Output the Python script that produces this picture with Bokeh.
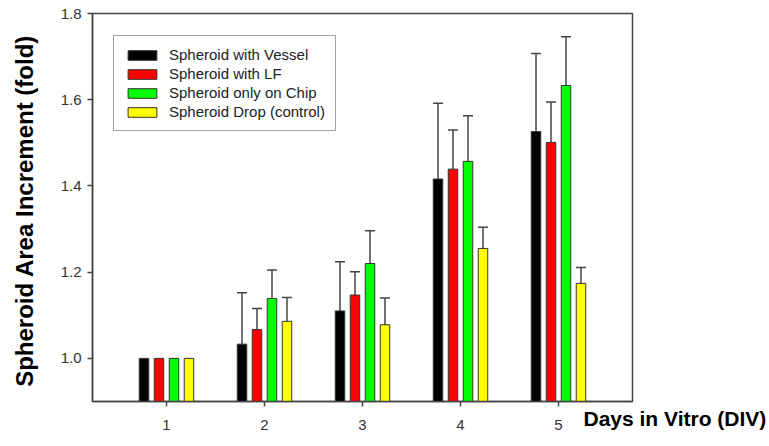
import pandas as pd
from bokeh.plotting import figure
from bokeh.models import (ColumnDataSource, Range1d, FixedTicker, Whisker, TeeHead, LinearAxis,
                          Legend, LegendItem, NumeralTickFormatter)
from bokeh.embed import file_html
from bokeh.resources import INLINE

days = [1, 2, 3, 4, 5]
series = ["Spheroid with Vessel", "Spheroid with LF", "Spheroid only on Chip", "Spheroid Drop (control)"]
colors = ["#000000", "#FF0000", "#00FF00", "#FFFF00"]
vessel = [1.0, 1.033, 1.110, 1.416, 1.526]
vessel_err = [0.0, 0.119, 0.114, 0.176, 0.181]
lf = [1.0, 1.067, 1.147, 1.439, 1.501]
lf_err = [0.0, 0.049, 0.054, 0.091, 0.094]
chip = [1.0, 1.139, 1.220, 1.457, 1.633]
chip_err = [0.0, 0.066, 0.076, 0.106, 0.113]
drop = [1.0, 1.086, 1.078, 1.255, 1.174]
drop_err = [0.0, 0.055, 0.062, 0.049, 0.037]
y_ticks = [1.0, 1.2, 1.4, 1.6, 1.8]
x_title = "Days in Vitro (DIV)"
x_title_pos = 5.255

values = [vessel, lf, chip, drop]
errors = [vessel_err, lf_err, chip_err, drop_err]

p = figure(width=769, height=446, output_backend="svg", toolbar_location=None,
           x_range=Range1d(0.245, 5.755), y_range=Range1d(0.9, 1.8),
           min_border_left=92, min_border_right=137, min_border_top=13, min_border_bottom=45)
p.background_fill_color = "white"
p.border_fill_color = "white"
p.outline_line_color = "#444444"
p.outline_line_width = 1.5
p.xgrid.visible = False
p.ygrid.visible = False

step = 0.153
bw = 0.097
items = []
for i, (name, col, vals, errs) in enumerate(zip(series, colors, values, errors)):
    off = (i - 1.5) * step
    df = pd.DataFrame({"day": days, "val": vals, "err": errs})
    df["x"] = df["day"] + off
    df["up"] = df["val"] + df["err"]
    src = ColumnDataSource(df)
    esrc = ColumnDataSource(df[df["err"] > 0])
    w = Whisker(source=esrc, base="x", lower="val", upper="up", dimension="height",
                line_color="#444444", line_width=1.5,
                upper_head=TeeHead(size=10, line_color="#444444", line_width=1.5),
                lower_head=None, level="underlay")
    p.add_layout(w)
    r = p.vbar(x="x", top="val", bottom=0.9, width=bw, source=src,
               fill_color=col, line_color="#333333", line_width=1)
    items.append(LegendItem(label=name, renderers=[r]))

legend = Legend(items=items, location=(21, 270), glyph_width=36, glyph_height=12,
                label_height=17, spacing=2, padding=10, label_standoff=9,
                label_text_font="Liberation Sans", label_text_font_size="15px",
                label_text_color="#222222",
                border_line_color="#444444", border_line_width=1.5,
                background_fill_alpha=1.0)
p.add_layout(legend, "center")

for ax in [p.xaxis[0], p.yaxis[0]]:
    ax.axis_line_color = "#444444"
    ax.axis_line_width = 1.5
    ax.major_tick_line_color = "#444444"
    ax.major_tick_line_width = 1.5
    ax.major_tick_out = 5
    ax.major_tick_in = 0
    ax.minor_tick_line_color = None
    ax.major_label_text_font = "Liberation Sans"
    ax.major_label_text_font_size = "15px"
    ax.major_label_text_color = "#333333"

p.xaxis.ticker = FixedTicker(ticks=days)
p.xaxis.major_label_standoff = 13
p.yaxis.ticker = FixedTicker(ticks=y_ticks)
p.yaxis.formatter = NumeralTickFormatter(format="0.0")
p.yaxis.major_label_standoff = 6
p.yaxis.axis_label = "Spheroid Area  Increment (fold)"
p.yaxis.axis_label_text_font = "Liberation Sans"
p.yaxis.axis_label_text_font_style = "bold"
p.yaxis.axis_label_text_font_size = "24px"
p.yaxis.axis_label_text_color = "#000000"
p.yaxis.axis_label_standoff = 20

# x-axis title, placed on the tick-label row to the right (left-aligned via tiny angle)
tax = LinearAxis(ticker=FixedTicker(ticks=[x_title_pos]),
                 major_label_overrides={x_title_pos: x_title},
                 axis_line_color=None, major_tick_line_color=None, minor_tick_line_color=None,
                 major_tick_out=0, major_tick_in=0, major_label_standoff=-14,
                 major_label_orientation=-0.0001,
                 major_label_text_font="Liberation Sans", major_label_text_font_style="bold",
                 major_label_text_font_size="21px", major_label_text_color="#000000")
p.add_layout(tax, "below")

open("out.html", "w").write(file_html(p, INLINE))
